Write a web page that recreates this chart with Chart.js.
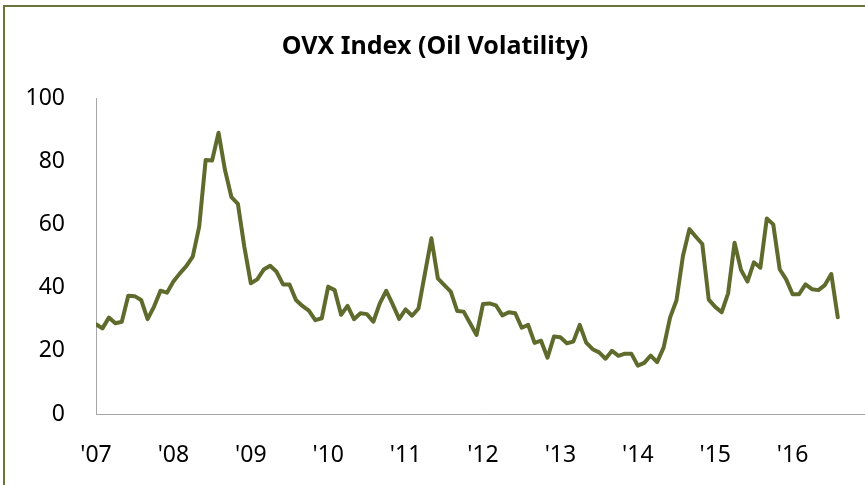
<!DOCTYPE html>
<html>
<head>
<meta charset="utf-8">
<title>OVX Index (Oil Volatility)</title>
<script src="https://cdn.jsdelivr.net/npm/chart.js@4"></script>
<style>
  html, body { margin: 0; padding: 0; background: #fff; overflow: hidden; }
  .frame {
    position: absolute; left: 3px; top: 5px;
    width: 900px; height: 600px;
    border: 2px solid #67773a;
    pointer-events: none;
  }
  #ovxChart { position: absolute; left: 0; top: 0; }
</style>
</head>
<body>
<canvas id="ovxChart" width="875" height="500"></canvas>
<div class="frame"></div>
<script>
/* OVX monthly values, Jan 2007 .. Aug 2016 */
const ovxValues = [
  28.4, 27.1, 30.5, 28.7, 29.2, 37.4, 37.3, 36.1, 30.0, 34.0, 39.0, 38.4,
  41.9, 44.5, 46.8, 49.8, 59.3, 80.4, 80.2, 89.0, 77.2, 68.6, 66.5, 52.9,
  41.4, 42.6, 45.7, 46.9, 45.0, 41.0, 41.0, 36.1, 34.2, 32.7, 29.7, 30.3,
  40.3, 39.2, 31.4, 34.2, 30.0, 31.9, 31.6, 29.2, 35.0, 39.0, 34.7, 30.1,
  33.1, 31.1, 33.4, 44.5, 55.6, 42.9, 40.8, 38.7, 32.6, 32.4, 28.7, 25.0,
  34.8, 35.0, 34.4, 31.2, 32.2, 31.9, 27.3, 28.2, 22.5, 23.2, 17.8, 24.5,
  24.3, 22.4, 22.9, 28.2, 22.6, 20.5, 19.5, 17.5, 20.0, 18.4, 19.1, 19.1,
  15.3, 16.2, 18.5, 16.4, 21.0, 30.5, 36.0, 50.0, 58.5, 56.1, 53.8, 36.2,
  33.9, 32.2, 38.2, 54.2, 45.6, 41.9, 48.0, 46.3, 61.9, 60.0, 45.8, 42.6,
  37.9, 37.9, 41.0, 39.5, 39.2, 40.8, 44.3, 30.6
];

const yearLabels = ["'07", "'08", "'09", "'10", "'11", "'12", "'13", "'14", "'15", "'16"];
const yTickValues = [0, 20, 40, 60, 80, 100];
const monthsPerYear = 12;

const LINE_COLOR = "#5f6b2d";
const AXIS_COLOR = "#a6a6a6";
const FONT_FAMILY = "'Noto Sans', 'Open Sans', sans-serif";

const points = ovxValues.map((v, i) => ({ x: i, y: v }));

new Chart(document.getElementById("ovxChart"), {
  type: "line",
  data: {
    datasets: [{
      label: "OVX",
      data: points,
      borderColor: LINE_COLOR,
      borderWidth: 4,
      borderJoinStyle: "round",
      borderCapStyle: "round",
      pointRadius: 0,
      tension: 0,
      fill: false
    }]
  },
  options: {
    responsive: false,
    animation: false,
    devicePixelRatio: 1,
    layout: { padding: { left: 0, right: 5, top: 0, bottom: 0 } },
    plugins: {
      legend: { display: false },
      tooltip: { enabled: false },
      title: {
        display: true,
        text: "OVX Index (Oil Volatility)",
        color: "#000",
        font: { family: FONT_FAMILY, size: 25, weight: "bold", lineHeight: 1.2 },
        padding: { top: 32, bottom: 36 }
      }
    },
    scales: {
      x: {
        type: "linear",
        min: 0,
        max: 120,
        grid: { display: false },
        border: { display: true, color: AXIS_COLOR, width: 1 },
        afterFit: (axis) => { axis.height = 86; },
        afterBuildTicks: (axis) => {
          axis.ticks = yearLabels.map((_, i) => ({ value: i * monthsPerYear }));
        },
        ticks: {
          autoSkip: false,
          maxRotation: 0,
          padding: 20,
          color: "#000",
          font: { family: FONT_FAMILY, size: 23 },
          callback: (value) => yearLabels[value / monthsPerYear] || ""
        }
      },
      y: {
        min: 0,
        max: 100,
        grid: { display: false, drawTicks: false },
        border: { display: true, color: AXIS_COLOR, width: 1 },
        afterFit: (axis) => { axis.width = 96; },
        afterBuildTicks: (axis) => {
          axis.ticks = yTickValues.map((v) => ({ value: v }));
        },
        ticks: {
          padding: 31,
          color: "#000",
          font: { family: FONT_FAMILY, size: 23 }
        }
      }
    }
  }
});
</script>
</body>
</html>
